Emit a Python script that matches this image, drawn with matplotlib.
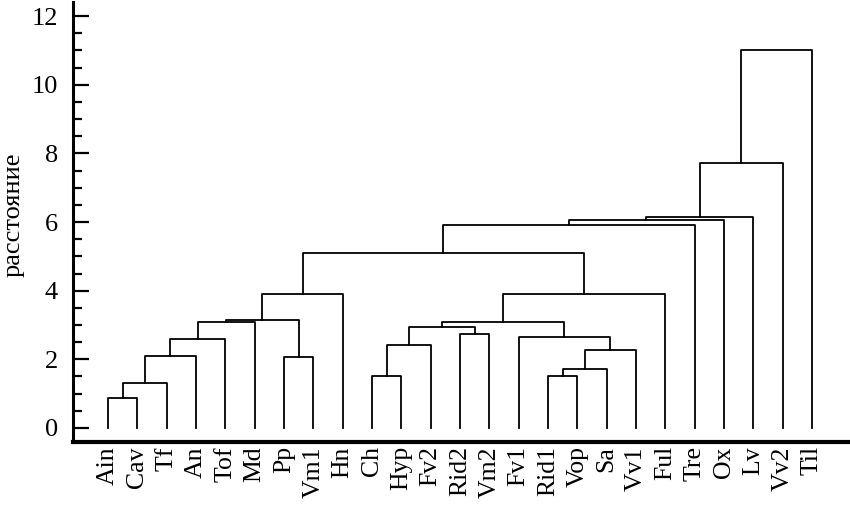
import matplotlib
matplotlib.use('Agg')
import matplotlib.pyplot as plt
from matplotlib.ticker import MultipleLocator

plt.rcParams['font.family'] = ['Liberation Serif', 'DejaVu Serif']

labels = ['Ain', 'Cav', 'Tf', 'An', 'Tof', 'Md', 'Pp', 'Vm1', 'Hn', 'Ch',
          'Hyp', 'Fv2', 'Rid2', 'Vm2', 'Fv1', 'Rid1', 'Vop', 'Sa', 'Vv1',
          'Ful', 'Tre', 'Ox', 'Lv', 'Vv2', 'Til']

# linkage: ids < 25 are leaves, id 25+k is the cluster made by merge k
merge_left = [0, 25, 26, 27, 28, 6, 29, 31, 9, 33, 12, 34,
              15, 37, 38, 14, 36, 41, 32, 43, 44, 45, 46, 47]
merge_right = [1, 2, 3, 4, 5, 7, 30, 8, 10, 11, 13, 35,
               16, 17, 18, 39, 40, 19, 42, 20, 21, 22, 23, 24]
merge_height = [0.87, 1.30, 2.11, 2.59, 3.10, 2.08, 3.15, 3.90, 1.52, 2.42, 2.74, 2.95,
                1.52, 1.72, 2.27, 2.64, 3.10, 3.89, 5.09, 5.91, 6.06, 6.16, 7.73, 11.01]

n = len(labels)
pos = {i: float(i) for i in range(n)}
top = {i: 0.0 for i in range(n)}

fig = plt.figure(figsize=(8.5, 5.09), dpi=100)
ax = fig.add_axes([0.086, 0.1316, 0.914, 0.8644])

for k, (a, b, h) in enumerate(zip(merge_left, merge_right, merge_height)):
    xa, xb = pos[a], pos[b]
    ax.plot([xa, xa, xb, xb], [top[a], h, h, top[b]], color='black', lw=1.3)
    pos[n + k] = (xa + xb) / 2
    top[n + k] = h

ax.set_xlim(-1.19, 25.3)
ax.set_ylim(-0.41, 12.41)

ax.spines['top'].set_visible(False)
ax.spines['right'].set_visible(False)
ax.spines['left'].set_linewidth(2.2)
ax.spines['bottom'].set_linewidth(3)

ax.set_xticks(range(n))
ax.set_xticklabels(labels, rotation=90, va='top', ha='center', fontsize=18.5)
ax.tick_params(axis='x', length=0, pad=3)

ax.yaxis.set_major_locator(MultipleLocator(2))
ax.yaxis.set_minor_locator(MultipleLocator(0.5))
ax.tick_params(axis='y', which='major', direction='in', length=11.5, width=1.6,
               labelsize=19, pad=11)
ax.tick_params(axis='y', which='minor', direction='in', length=6.5, width=1.6)

fig.text(14 / 850, 1 - 215 / 509, 'расстояние', rotation=90, fontsize=19,
         ha='center', va='center')

fig.savefig('out.png', dpi=100)
